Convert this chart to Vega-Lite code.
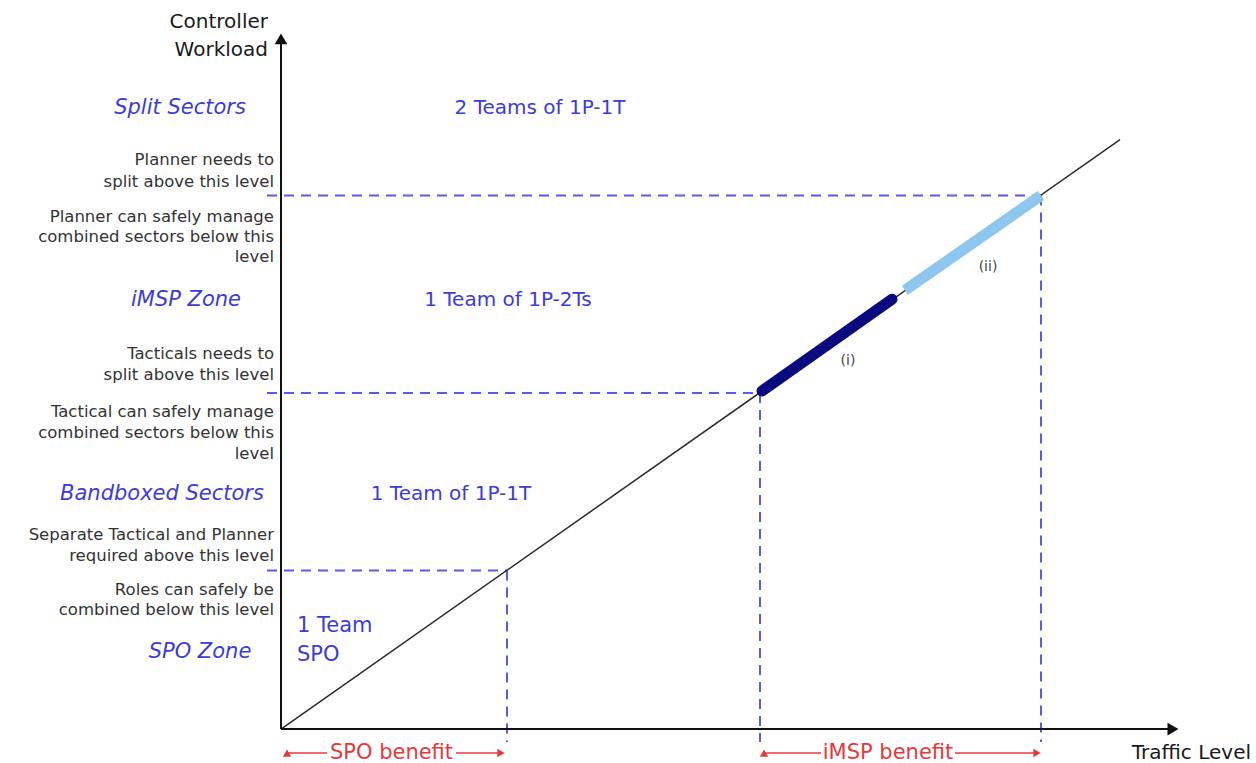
{
  "$schema": "https://vega.github.io/schema/vega-lite/v6.json",
  "width": 1256,
  "height": 763,
  "autosize": {"type": "fit", "contains": "padding"},
  "padding": 0,
  "background": "white",
  "config": {"view": {"stroke": null}, "font": "DejaVu Sans"},
  "datasets": {
    "axes": [
      {"x": 0, "y": 0, "x2": 0, "y2": 69.0},
      {"x": 0, "y": 0, "x2": 89.0, "y2": 0}
    ],
    "axisHeads": [
      {"x": 0, "y": 69.2, "dir": "up"},
      {"x": 89.2, "y": 0, "dir": "right"}
    ],
    "thresholds": [
      {"x": -1.4, "y": 53.5, "x2": 76.0, "y2": 53.5},
      {"x": 76.0, "y": 53.5, "x2": 76.0, "y2": -1.3},
      {"x": -1.4, "y": 33.7, "x2": 47.9, "y2": 33.7},
      {"x": 47.9, "y": 33.7, "x2": 47.9, "y2": -1.3},
      {"x": -1.4, "y": 15.9, "x2": 22.6, "y2": 15.9},
      {"x": 22.6, "y": 15.9, "x2": 22.6, "y2": -1.3}
    ],
    "diagonal": [
      {"x": 0, "y": 0, "x2": 83.9, "y2": 59.1}
    ],
    "segI": [
      {"x": 48.1, "y": 33.9, "x2": 61.1, "y2": 43.1}
    ],
    "segII": [
      {"x": 62.4, "y": 44.0, "x2": 76.0, "y2": 53.5}
    ],
    "segLabels": [
      {"x": 56.7, "y": 36.9, "label": "(i)"},
      {"x": 70.7, "y": 46.3, "label": "(ii)"}
    ],
    "benefitLines": [
      {"x": 0.6, "y": -2.4, "x2": 4.6, "y2": -2.4},
      {"x": 17.5, "y": -2.4, "x2": 22.0, "y2": -2.4},
      {"x": 48.3, "y": -2.4, "x2": 54.0, "y2": -2.4},
      {"x": 67.4, "y": -2.4, "x2": 75.6, "y2": -2.4}
    ],
    "benefitHeads": [
      {"x": 0.6, "y": -2.4, "dir": "left"},
      {"x": 22.0, "y": -2.4, "dir": "right"},
      {"x": 48.3, "y": -2.4, "dir": "left"},
      {"x": 75.6, "y": -2.4, "dir": "right"}
    ],
    "benefitText": [
      {"x": 11.05, "y": -2.4, "label": "SPO benefit"},
      {"x": 60.7, "y": -2.4, "label": "iMSP benefit"}
    ],
    "axisTitleY": [
      {"x": -1.3, "y": 70.9, "label": "Controller"},
      {"x": -1.3, "y": 68.1, "label": "Workload"}
    ],
    "axisTitleX": [
      {"x": 97.0, "y": -2.4, "label": "Traffic Level"}
    ],
    "levelNotes": [
      {"x": -0.7, "y": 57.1, "label": "Planner needs to"},
      {"x": -0.7, "y": 54.9, "label": "split above this level"},
      {"x": -0.7, "y": 51.3, "label": "Planner can safely manage"},
      {"x": -0.7, "y": 49.3, "label": "combined sectors below this"},
      {"x": -0.7, "y": 47.3, "label": "level"},
      {"x": -0.7, "y": 37.6, "label": "Tacticals needs to"},
      {"x": -0.7, "y": 35.5, "label": "split above this level"},
      {"x": -0.7, "y": 31.8, "label": "Tactical can safely manage"},
      {"x": -0.7, "y": 29.7, "label": "combined sectors below this"},
      {"x": -0.7, "y": 27.6, "label": "level"},
      {"x": -0.7, "y": 19.5, "label": "Separate Tactical and Planner"},
      {"x": -0.7, "y": 17.4, "label": "required above this level"},
      {"x": -0.7, "y": 13.9, "label": "Roles can safely be"},
      {"x": -0.7, "y": 11.9, "label": "combined below this level"}
    ],
    "zones": [
      {"x": -10.1, "y": 62.3, "label": "Split Sectors"},
      {"x": -9.5, "y": 43.0, "label": "iMSP Zone"},
      {"x": -11.9, "y": 23.6, "label": "Bandboxed Sectors"},
      {"x": -8.1, "y": 7.7, "label": "SPO Zone"}
    ],
    "teams": [
      {"x": 25.9, "y": 62.3, "label": "2 Teams of 1P-1T"},
      {"x": 22.7, "y": 43.0, "label": "1 Team of 1P-2Ts"},
      {"x": 17.0, "y": 23.6, "label": "1 Team of 1P-1T"}
    ],
    "spoTeam": [
      {"x": 1.6, "y": 10.3, "label": "1 Team"},
      {"x": 1.6, "y": 7.4, "label": "SPO"}
    ]
  },
  "encoding": {
    "x": {"field": "x", "type": "quantitative", "axis": null,
          "scale": {"domain": [-28.1, 97.5], "nice": false, "zero": false}},
    "y": {"field": "y", "type": "quantitative", "axis": null,
          "scale": {"domain": [-3.2, 73.1], "nice": false, "zero": false}}
  },
  "layer": [
    {
      "data": {"name": "thresholds"},
      "mark": {"type": "rule", "color": "#5b5be8", "strokeWidth": 2, "strokeDash": [10, 7]},
      "encoding": {"x2": {"field": "x2"}, "y2": {"field": "y2"}}
    },
    {
      "data": {"name": "diagonal"},
      "mark": {"type": "rule", "color": "#2a2a2a", "strokeWidth": 1.5},
      "encoding": {"x2": {"field": "x2"}, "y2": {"field": "y2"}}
    },
    {
      "data": {"name": "segI"},
      "mark": {"type": "rule", "color": "#0a0a80", "strokeWidth": 11, "strokeCap": "round"},
      "encoding": {"x2": {"field": "x2"}, "y2": {"field": "y2"}}
    },
    {
      "data": {"name": "segII"},
      "mark": {"type": "rule", "color": "#8fc6f0", "strokeWidth": 11, "strokeCap": "butt"},
      "encoding": {"x2": {"field": "x2"}, "y2": {"field": "y2"}}
    },
    {
      "data": {"name": "axes"},
      "mark": {"type": "rule", "color": "#111111", "strokeWidth": 2},
      "encoding": {"x2": {"field": "x2"}, "y2": {"field": "y2"}}
    },
    {
      "data": {"name": "axisHeads"},
      "mark": {"type": "point", "filled": true, "color": "#111111", "size": 160, "opacity": 1},
      "encoding": {
        "shape": {"field": "dir", "type": "nominal", "legend": null,
                  "scale": {"domain": ["up", "right"], "range": ["triangle-up", "triangle-right"]}}
      }
    },
    {
      "data": {"name": "benefitLines"},
      "mark": {"type": "rule", "color": "#e8383d", "strokeWidth": 1.5},
      "encoding": {"x2": {"field": "x2"}, "y2": {"field": "y2"}}
    },
    {
      "data": {"name": "benefitHeads"},
      "mark": {"type": "point", "filled": true, "color": "#e8383d", "size": 70, "opacity": 1},
      "encoding": {
        "shape": {"field": "dir", "type": "nominal", "legend": null,
                  "scale": {"domain": ["left", "right"], "range": ["triangle-left", "triangle-right"]}}
      }
    },
    {
      "data": {"name": "benefitText"},
      "mark": {"type": "text", "color": "#e8383d", "fontSize": 21, "align": "center", "baseline": "middle"},
      "encoding": {"text": {"field": "label"}}
    },
    {
      "data": {"name": "segLabels"},
      "mark": {"type": "text", "color": "#444444", "fontSize": 14, "align": "center", "baseline": "middle"},
      "encoding": {"text": {"field": "label"}}
    },
    {
      "data": {"name": "axisTitleY"},
      "mark": {"type": "text", "color": "#1a1a1a", "fontSize": 20, "align": "right", "baseline": "middle"},
      "encoding": {"text": {"field": "label"}}
    },
    {
      "data": {"name": "axisTitleX"},
      "mark": {"type": "text", "color": "#1a1a1a", "fontSize": 20, "align": "right", "baseline": "middle"},
      "encoding": {"text": {"field": "label"}}
    },
    {
      "data": {"name": "levelNotes"},
      "mark": {"type": "text", "color": "#333333", "fontSize": 16.5, "align": "right", "baseline": "middle"},
      "encoding": {"text": {"field": "label"}}
    },
    {
      "data": {"name": "zones"},
      "mark": {"type": "text", "color": "#3c3cd6", "fontSize": 21, "fontStyle": "italic", "align": "center", "baseline": "middle"},
      "encoding": {"text": {"field": "label"}}
    },
    {
      "data": {"name": "teams"},
      "mark": {"type": "text", "color": "#3c3cd6", "fontSize": 20, "align": "center", "baseline": "middle"},
      "encoding": {"text": {"field": "label"}}
    },
    {
      "data": {"name": "spoTeam"},
      "mark": {"type": "text", "color": "#3c3cd6", "fontSize": 21, "align": "left", "baseline": "middle"},
      "encoding": {"text": {"field": "label"}}
    }
  ]
}
